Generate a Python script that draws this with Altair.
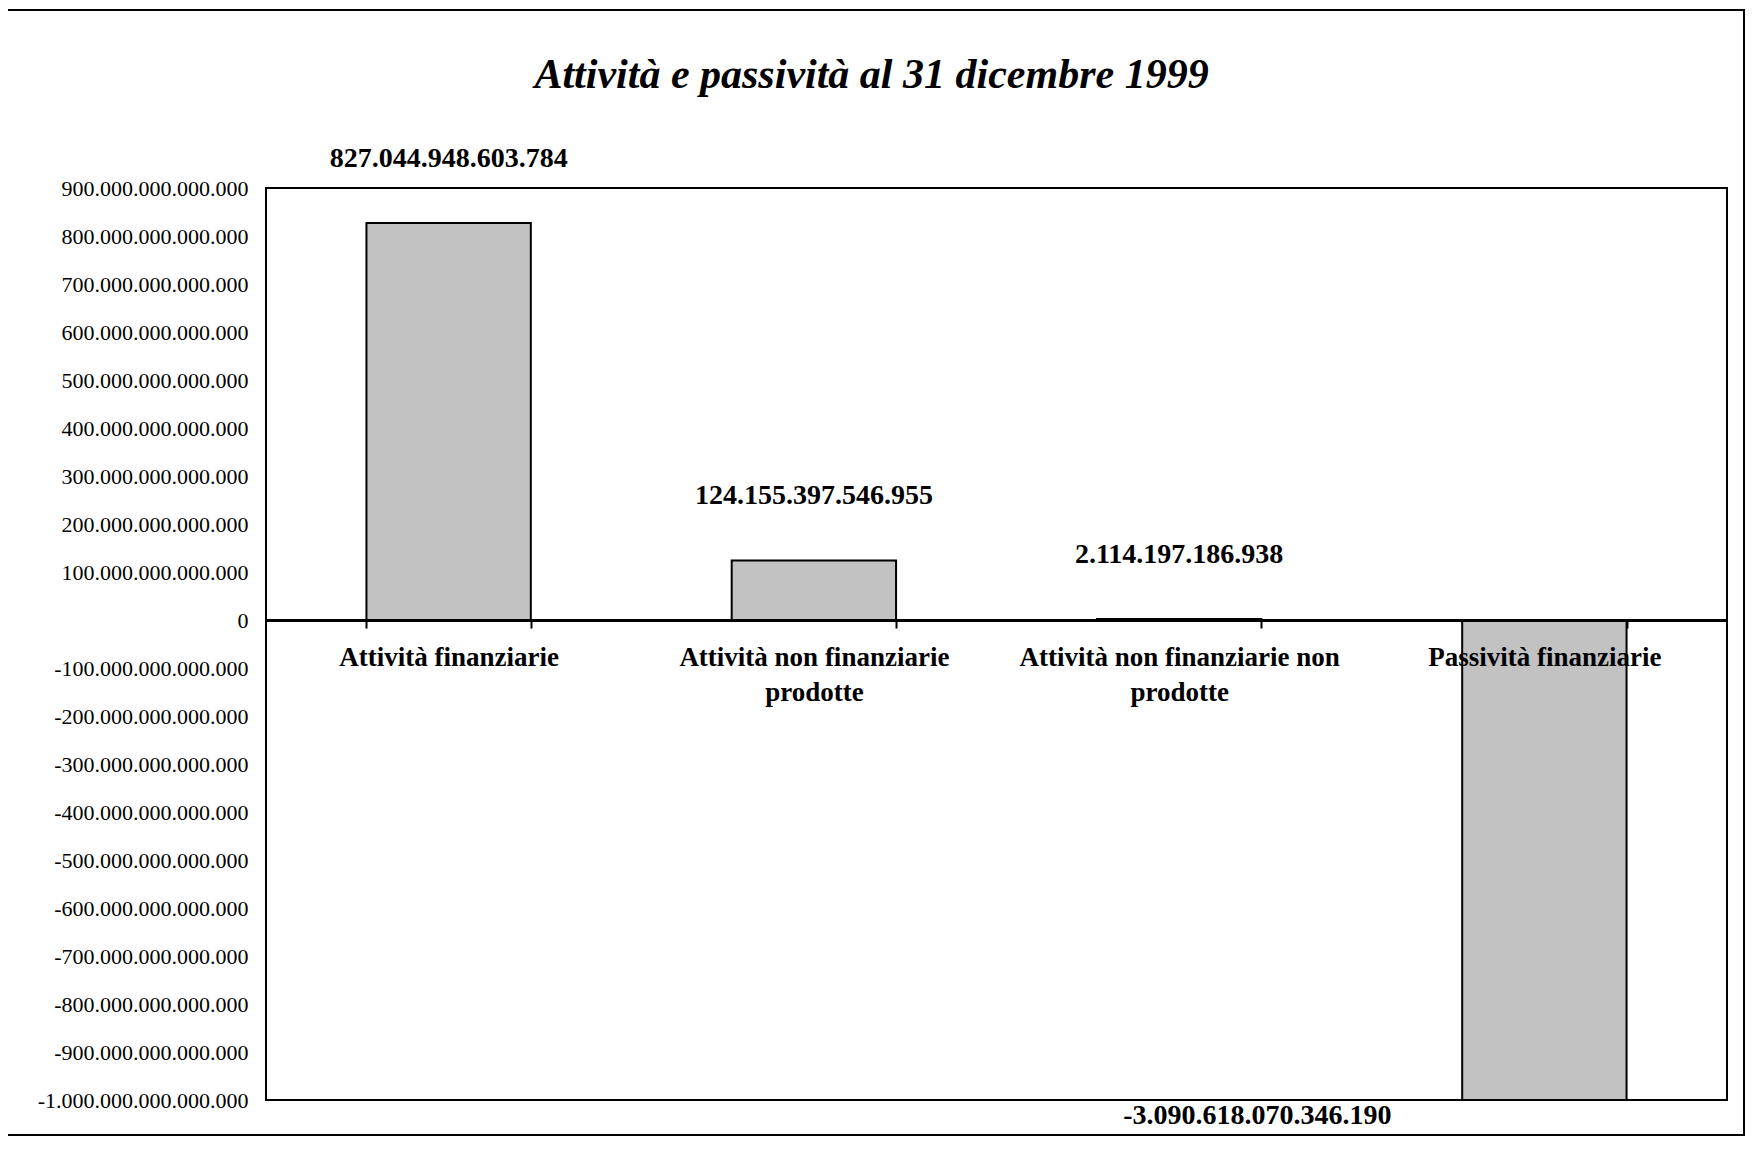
import altair as alt
import pandas as pd

# ---- data ----
categories = [
    "Attività finanziarie",
    "Attività non finanziarie\nprodotte",
    "Attività non finanziarie non\nprodotte",
    "Passività finanziarie",
]
values = [827044948603784, 124155397546955, 2114197186938, -3090618070346190]
y_ticks = [v * 100_000_000_000_000 for v in range(-10, 10)]
y_min, y_max = -1_000_000_000_000_000, 900_000_000_000_000

labels = [f"{v:,}".replace(",", ".") for v in values]

df = pd.DataFrame({"categoria": categories, "valore": values, "etichetta": labels})

W, H = 1461, 912
zero_offset = -round(H * (0 - y_min) / (y_max - y_min))  # x axis sits on the zero line

SERIF = "Liberation Serif"

x_enc = alt.X(
    "categoria:N",
    sort=categories,
    scale=alt.Scale(paddingInner=0.55, paddingOuter=0.275),
    axis=alt.Axis(
        title=None,
        orient="bottom",
        offset=zero_offset,
        domainColor="black",
        domainWidth=3,
        ticks=True,
        tickBand="extent",
        tickColor="black",
        tickWidth=2,
        tickSize=8,
        labelAngle=0,
        labelExpr="split(datum.label, '\\n')",
        labelFont=SERIF,
        labelFontSize=27,
        labelFontWeight="bold",
        labelColor="black",
        labelLineHeight=35,
        labelPadding=16,
        labelLimit=600,
        labelOverlap=False,
        labelFlush=False,
        grid=False,
        zindex=1,
    ),
)

y_scale = alt.Scale(domain=[y_min, y_max], clamp=True, nice=False, zero=False)

y_enc = alt.Y(
    "valore:Q",
    scale=y_scale,
    axis=alt.Axis(
        title=None,
        values=y_ticks,
        labelExpr="replace(replace(format(datum.value, ',.0f'), regexp(',', 'g'), '.'), '\u2212', '-')",
        labelFont=SERIF,
        labelFontSize=22,
        labelColor="black",
        labelPadding=18,
        labelLimit=400,
        ticks=False,
        domain=False,
        grid=False,
    ),
)

base = alt.Chart(df)

bars = base.mark_bar(fill="#c2c2c2", stroke="black", strokeWidth=2).encode(x=x_enc, y=y_enc)

pos_labels = (
    base.transform_filter("datum.valore >= 0")
    .mark_text(font=SERIF, fontSize=28, fontWeight="bold", color="black",
               baseline="alphabetic", dy=-56)
    .encode(x=alt.X("categoria:N", sort=categories), y=alt.Y("valore:Q"), text="etichetta:N")
)

neg_labels = (
    base.transform_filter("datum.valore < 0")
    .mark_text(font=SERIF, fontSize=28, fontWeight="bold", color="black",
               baseline="alphabetic", dy=24, dx=-287)
    .encode(x=alt.X("categoria:N", sort=categories), y=alt.Y("valore:Q"), text="etichetta:N")
)

frame = alt.Chart(pd.DataFrame({"f": [0]})).mark_rect(
    fill=None, stroke="black", strokeWidth=2, clip=False
).encode(
    x=alt.value(-261), x2=alt.value(W + 20 - 3),
    y=alt.value(-178), y2=alt.value(H + 38 - 3),
)

chart = (
    alt.layer(frame, bars, pos_labels, neg_labels)
    .properties(
        width=W,
        height=H,
        title=alt.TitleParams(
            "Attività e passività al 31 dicembre 1999",
            font=SERIF,
            fontSize=42,
            fontStyle="italic",
            fontWeight="bold",
            color="black",
            anchor="middle",
            frame="bounds",
            offset=0,
            dy=88,
            dx=-3,
        ),
        autosize=alt.AutoSizeParams(type="none"),
        padding={"left": 258, "top": 180, "right": 20, "bottom": 38},
        background="white",
    )
    .configure_view(stroke="black", strokeWidth=2)
)

chart.save("out.html", embed_options={"renderer": "svg", "actions": False})
